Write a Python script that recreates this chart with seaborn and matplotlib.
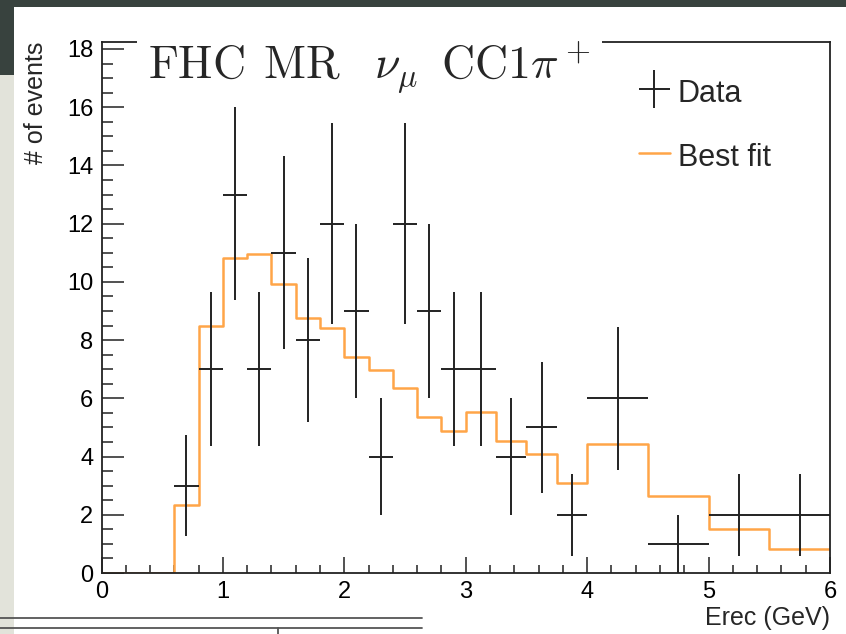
import numpy as np
import pandas as pd
import matplotlib
matplotlib.use("Agg")
import matplotlib.pyplot as plt
import seaborn as sns
from matplotlib.patches import Rectangle
from matplotlib.lines import Line2D
from matplotlib.container import ErrorbarContainer
from matplotlib.legend_handler import HandlerErrorbar
from matplotlib.ticker import MultipleLocator

# ---- data ----
bin_edges = [0.0, 0.6, 0.8, 1.0, 1.2, 1.4, 1.6, 1.8, 2.0, 2.2, 2.4, 2.6, 2.8,
             3.0, 3.25, 3.5, 3.75, 4.0, 4.5, 5.0, 5.5, 6.0]
best_fit = [0.0, 2.34, 8.49, 10.81, 10.96, 9.92, 8.77, 8.40, 7.43, 6.97, 6.37,
            5.37, 4.89, 5.52, 4.53, 4.09, 3.08, 4.43, 2.66, 1.52, 0.83]
# data bins start at 0.6 GeV
data_counts = [3, 7, 13, 7, 11, 8, 12, 9, 4, 12, 9, 7, 7, 4, 5, 2, 6, 1, 2, 2]
err_low = [1.73, 2.65, 3.61, 2.65, 3.32, 2.83, 3.46, 3.0, 2.0, 3.46, 3.0, 2.65,
           2.65, 2.0, 2.24, 1.41, 2.45, 1.0, 1.41, 1.41]
err_high = [1.73, 2.65, 3.08, 2.65, 3.32, 2.83, 3.46, 3.0, 2.0, 3.46, 3.0, 2.65,
            2.65, 2.0, 2.24, 1.41, 2.45, 1.0, 1.41, 1.41]
x_ticks = [0, 1, 2, 3, 4, 5, 6]
y_ticks = [0, 2, 4, 6, 8, 10, 12, 14, 16, 18]

sns.set_theme(style="ticks")
plt.rcParams['font.family'] = ['Liberation Sans', 'DejaVu Sans']

W, H = 846, 634
fig = plt.figure(figsize=(W / 100, H / 100), dpi=100)
fig.patch.set_facecolor('white')

# slide decorations around the screenshot
dark = '#38423e'
fig.patches.append(Rectangle((0, 1 - 7 / H), 1, 7 / H, transform=fig.transFigure,
                             facecolor=dark, edgecolor='none', zorder=0))
fig.patches.append(Rectangle((0, 1 - 75 / H), 14 / W, 75 / H, transform=fig.transFigure,
                             facecolor=dark, edgecolor='none', zorder=0))
fig.patches.append(Rectangle((0, 0), 14 / W, 1 - 75 / H, transform=fig.transFigure,
                             facecolor='#e2e3da', edgecolor='none', zorder=0))
for yy in (618, 628):
    fig.lines.append(Line2D([0, 422 / W], [1 - yy / H] * 2, transform=fig.transFigure,
                            color='#555555', lw=1.3))
fig.lines.append(Line2D([278 / W] * 2, [1 - 628 / H, 0], transform=fig.transFigure,
                        color='#555555', lw=1.3))

left, right, bottom, top = 101.5, 830, 573, 41.7
ax = fig.add_axes([left / W, 1 - bottom / H, (right - left) / W, (bottom - top) / H])
ax.set_facecolor('white')

# best fit step histogram
edges = np.array(bin_edges)
step_y = list(best_fit) + [best_fit[-1]]
df_fit = pd.DataFrame({'x': edges, 'y': step_y})
sns.lineplot(data=df_fit, x='x', y='y', drawstyle='steps-post', sort=False,
             color='#ffa548', lw=1.8, ax=ax, zorder=2)
fit_line = ax.lines[0]

# data with error bars
centers = 0.5 * (edges[2:] + edges[1:-1])
half = 0.5 * (edges[2:] - edges[1:-1])
eb = ax.errorbar(centers, data_counts, xerr=half, yerr=[err_low, err_high],
                 fmt='none', ecolor='#222222', elinewidth=1.4, capsize=0, zorder=3)

ax.set_xlim(0, 6)
ax.set_ylim(0, 18.25)
ax.set_xticks(x_ticks)
ax.set_yticks(y_ticks)
ax.xaxis.set_minor_locator(MultipleLocator(0.2))
ax.yaxis.set_minor_locator(MultipleLocator(0.5))
ax.tick_params(axis='both', which='both', direction='in', colors='#222222',
               width=1.1, labelcolor='black', labelsize=17)
ax.tick_params(axis='y', which='major', length=16, pad=6)
ax.tick_params(axis='y', which='minor', length=8)
ax.tick_params(axis='x', which='major', length=11.5, pad=6)
ax.tick_params(axis='x', which='minor', length=5.8)
for s in ax.spines.values():
    s.set_visible(True)
    s.set_color('#222222')
    s.set_linewidth(1.3)

ax.set_xlabel('Erec (GeV)', fontsize=18, loc='right')
ax.xaxis.set_label_coords(1.0, -0.062)
ax.set_ylabel('# of events', fontsize=18, loc='top')
ax.yaxis.set_label_coords(-0.073, 1.0)

# title box
title = (r'$\mathrm{FHC}\hspace{0.11}\ \mathrm{MR}\hspace{0.55}\ \nu_\mu'
         r'\hspace{0.22}\ \mathrm{CC1}\pi^+\hspace{0.55}$')
ax.text(0.0638, (bottom - 78.3) / (bottom - top), title,
        transform=ax.transAxes, fontsize=33, math_fontfamily='cm',
        ha='left', va='baseline', zorder=6, clip_on=False,
        bbox=dict(boxstyle='square,pad=0.25', facecolor='white', edgecolor='none'))

fs_leg = 22
leg = ax.legend([eb, fit_line], ['Data', 'Best fit'], loc='upper left',
                bbox_to_anchor=((639 - left) / (right - left), (bottom - 76) / (bottom - top)),
                frameon=False, fontsize=fs_leg, borderaxespad=0, borderpad=0,
                handlelength=1.0, handleheight=1.25, handletextpad=0.26,
                labelspacing=0.98,
                handler_map={ErrorbarContainer: HandlerErrorbar(xerr_size=0.51, yerr_size=0.62)})

fig.savefig('out.png', dpi=100, facecolor=fig.get_facecolor())
